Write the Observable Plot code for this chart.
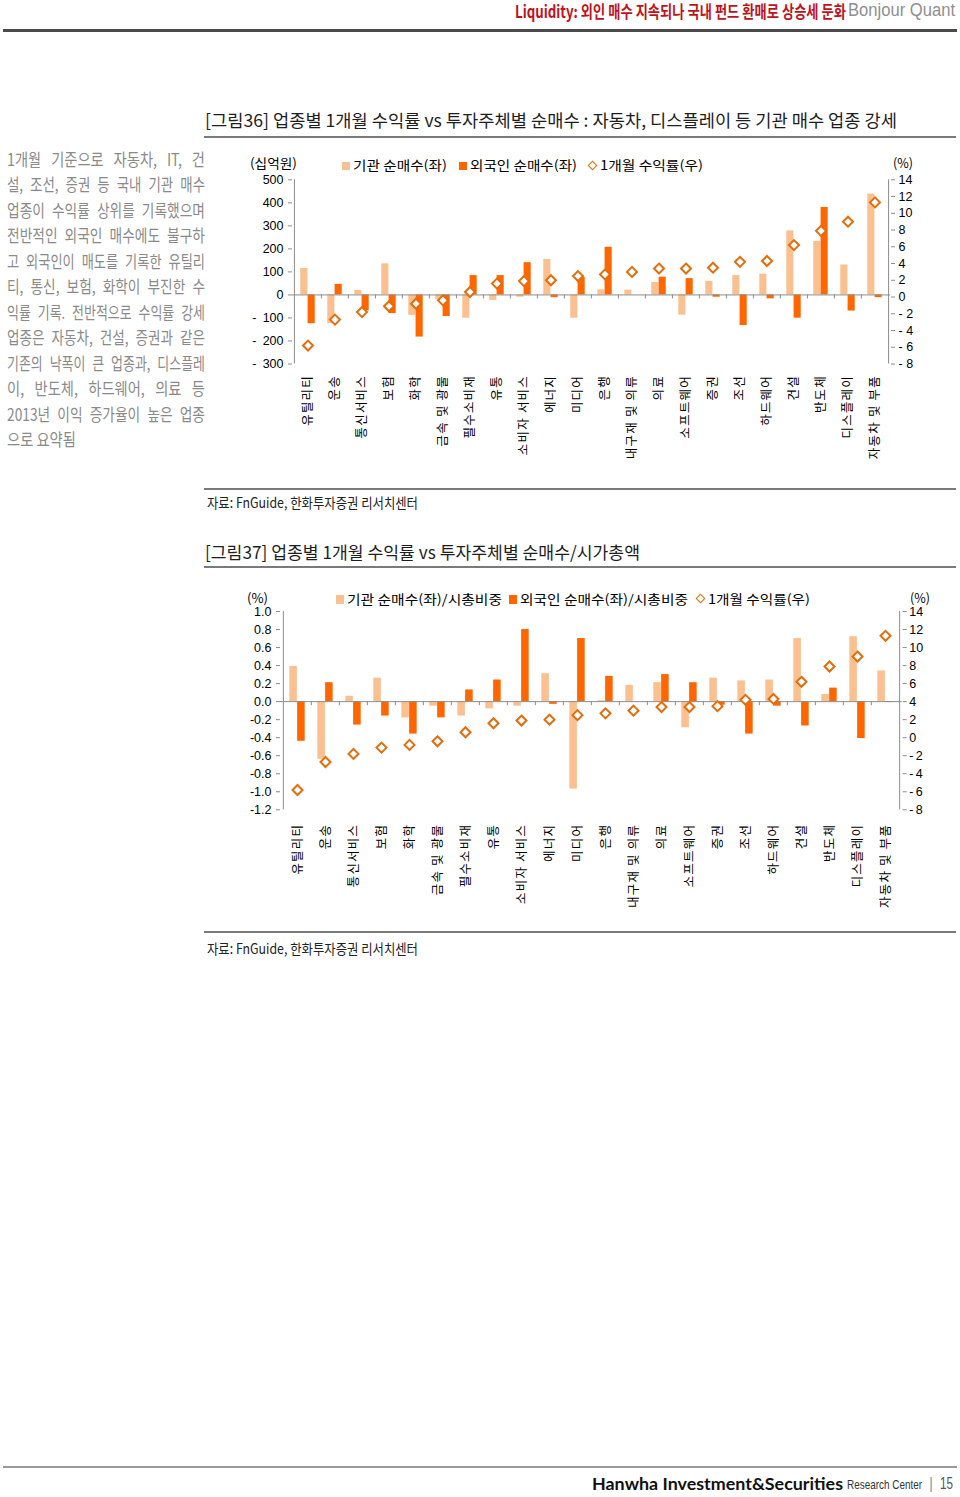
<!DOCTYPE html>
<html><head><meta charset="utf-8">
<script src="https://cdn.jsdelivr.net/npm/d3@7"></script>
<script src="https://cdn.jsdelivr.net/npm/@observablehq/plot@0.6"></script>
<style>
html,body{margin:0;padding:0;background:#fff;}
body{width:960px;height:1497px;position:relative;overflow:hidden;font-family:"Noto Sans CJK KR","Liberation Sans",sans-serif;}
.t{position:absolute;white-space:nowrap;line-height:1;transform-origin:0 0;}
.rule{position:absolute;}
.chart{position:absolute;}
.sq{position:absolute;}
.dia{position:absolute;width:5px;height:5px;border:1.6px solid #E46C0A;background:#fff;transform:rotate(45deg);}
</style></head><body>
<script>
// ---------------- DATA ----------------
const categories = ["유틸리티","운송","통신서비스","보험","화학","금속 및 광물","필수소비재","유통","소비자 서비스","에너지","미디어","은행","내구재 및 의류","의료","소프트웨어","증권","조선","하드웨어","건설","반도체","디스플레이","자동차 및 부품"];
// 기관 순매수 (십억원)
const instNetBuy = [115,-125,20,135,-89,-20,-101,-24,-10,154,-101,22,21,54,-88,59,84,90,278,232,130,438];
// 외국인 순매수 (십억원)
const foreignNetBuy = [-125,46,-69,-81,-183,-94,84,84,140,-12,76,207,0,77,71,-10,-133,-17,-101,380,-70,-12];
// 1개월 수익률 (%)
const return1m = [-5.8,-2.7,-1.8,-1.1,-0.8,-0.4,0.6,1.6,1.9,2.0,2.5,2.7,3.0,3.4,3.4,3.5,4.2,4.3,6.2,7.9,9.0,11.3];
// 기관 순매수 / 시총비중 (%)
const instRatio = [0.39,-0.64,0.06,0.26,-0.18,-0.05,-0.16,-0.08,-0.05,0.31,-0.97,0.01,0.18,0.21,-0.29,0.26,0.23,0.24,0.70,0.08,0.72,0.34];
// 외국인 순매수 / 시총비중 (%)
const foreignRatio = [-0.44,0.21,-0.26,-0.16,-0.36,-0.18,0.13,0.24,0.80,-0.03,0.70,0.28,0.00,0.30,0.21,-0.04,-0.36,-0.05,-0.27,0.15,-0.41,-0.01];

const leftTicks1 = [-300,-200,-100,0,100,200,300,400,500];
const leftTicks2 = [-1.2,-1.0,-0.8,-0.6,-0.4,-0.2,0.0,0.2,0.4,0.6,0.8,1.0];
const rightTicks = [-8,-6,-4,-2,0,2,4,6,8,10,12,14];

const paragraph = [
  "1개월 기준으로 자동차, IT, 건",
  "설, 조선, 증권 등 국내 기관 매수",
  "업종이 수익률 상위를 기록했으며",
  "전반적인 외국인 매수에도 불구하",
  "고 외국인이 매도를 기록한 유틸리",
  "티, 통신, 보험, 화학이 부진한 수",
  "익률 기록. 전반적으로 수익률 강세",
  "업종은 자동차, 건설, 증권과 같은",
  "기존의 낙폭이 큰 업종과, 디스플레",
  "이, 반도체, 하드웨어, 의료 등",
  "2013년 이익 증가율이 높은 업종",
  "으로 요약됨"
];
const headerRed = "Liquidity: 외인 매수 지속되나 국내 펀드 환매로 상승세 둔화";
const headerGray = "Bonjour Quant";
const title1 = "[그림36]  업종별 1개월 수익률 vs 투자주체별 순매수 : 자동차, 디스플레이 등 기관 매수 업종 강세";
const title2 = "[그림37]  업종별 1개월 수익률 vs 투자주체별 순매수/시가총액";
const source = "자료: FnGuide, 한화투자증권 리서치센터";
const legend1 = ["기관  순매수(좌)", "외국인  순매수(좌)", "1개월  수익률(우)"];
const legend2 = ["기관  순매수(좌)/시총비중", "외국인  순매수(좌)/시총비중", "1개월  수익률(우)"];

// ---------------- STYLE ----------------
const light = "#FAC090", dark = "#FF6600", dStroke = "#E46C0A", axisGray = "#8c8c8c";
const KR = "'Noto Sans CJK KR', sans-serif";
const LAT = "'Liberation Sans', 'Noto Sans CJK KR', sans-serif";

function txt(str, o) {
  const d = document.createElement("div");
  d.className = "t";
  d.textContent = str;
  d.style.fontSize = o.size + "px";
  d.style.left = o.x + "px";
  d.style.top = o.y + "px";
  d.style.color = o.color || "#000";
  d.style.fontWeight = o.weight || 400;
  d.style.fontFamily = o.family || KR;
  if (o.ls) d.style.letterSpacing = o.ls + "px";
  document.body.appendChild(d);
  if (o.w) {
    const nat = d.getBoundingClientRect().width;
    d.style.transform = `scaleX(${o.w / nat})`;
  }
  return d;
}
function rule(x, y, w, h, c) {
  const d = document.createElement("div");
  d.className = "rule";
  Object.assign(d.style, {left: x + "px", top: y + "px", width: w + "px", height: h + "px", background: c});
  document.body.appendChild(d);
}
function square(x, y, w, h, c) {
  const d = document.createElement("div");
  d.className = "sq";
  Object.assign(d.style, {left: x + "px", top: y + "px", width: w + "px", height: h + "px", background: c});
  document.body.appendChild(d);
}
function diamond(cx, cy) {
  const d = document.createElement("div");
  d.className = "dia";
  d.style.left = (cx - 4.1) + "px";
  d.style.top = (cy - 4.1) + "px";
  document.body.appendChild(d);
}

// ---------------- HEADER ----------------
txt(headerRed, {x: 515, y: 2.5, size: 16.5, w: 331, color: "#c0121c", weight: 700});
txt(headerGray, {x: 848, y: 1.5, size: 17.5, w: 107, color: "#8f8f8f", family: LAT});
rule(3, 29, 954, 3, "#4a4a4a");

// ---------------- PARAGRAPH (justified lines) ----------------
const pMaxScale = 0.84, pW = 198, pMinGap = 4;
paragraph.forEach((line, i) => {
  const d = document.createElement("div");
  d.className = "t";
  d.textContent = line;
  Object.assign(d.style, {left: "7px", top: (152 + 25.5 * i - 2.5) + "px", fontSize: "17px", color: "#8a8a8a"});
  document.body.appendChild(d);
  const nat = d.getBoundingClientRect().width;
  const spaces = (line.match(/ /g) || []).length;
  const last = i === paragraph.length - 1;
  let s = pMaxScale;
  if (!last) {
    s = Math.min(pMaxScale, (pW - spaces * pMinGap) / nat);
    if (spaces) d.style.wordSpacing = ((pW / s - nat) / spaces) + "px";
  }
  d.style.transform = `scaleX(${s})`;
});

// ---------------- TITLES / SOURCES ----------------
txt(title1, {x: 205, y: 110.5, size: 17.5, w: 692, color: "#1e1e1e"});
rule(204, 135.5, 752, 2, "#7a7a7a");
rule(204, 488, 752, 2, "#7a7a7a");
txt(source, {x: 207, y: 494.5, size: 14, w: 211, color: "#222"});
txt(title2, {x: 205, y: 542.5, size: 17.5, w: 435, color: "#1e1e1e"});
rule(204, 566, 752, 2, "#7a7a7a");
rule(204, 931, 752, 2, "#7a7a7a");
txt(source, {x: 207, y: 940.5, size: 14, w: 211, color: "#222"});

// ---------------- FOOTER ----------------
rule(3, 1466, 954, 2, "#9a9a9a");
txt("Hanwha Investment&Securities", {x: 592, y: 1475, size: 17, w: 251, color: "#111", weight: 700, family: "Lato, sans-serif"});
txt("Research Center", {x: 847, y: 1477.5, size: 13, w: 75, color: "#333", family: LAT});
txt("|", {x: 929, y: 1476, size: 16, color: "#999", family: LAT});
txt("15", {x: 940, y: 1476, size: 16, w: 13, color: "#555", family: LAT});

// ---------------- CHARTS ----------------
function makeChart(o) {
  const rows = categories.map((c, i) => ({c, inst: o.inst[i], foreign: o.foreign[i], ret: return1m[i]}));
  const innerW = o.width - o.mL - o.mR, innerH = o.height - o.mT - o.mB;
  const bw = innerW / categories.length;
  const [d0, d1] = o.domain;
  const r0 = rightTicks[0], r1 = rightTicks[rightTicks.length - 1];
  const toLeft = r => d0 + (r - r0) * (d1 - d0) / (r1 - r0);
  const fromLeft = v => r0 + (v - d0) * (r1 - r0) / (d1 - d0);
  const tickLen = 4 * (d1 - d0) / innerH;
  const lastCat = categories[categories.length - 1];
  const svg = Plot.plot({
    width: o.width, height: o.height,
    marginLeft: o.mL, marginRight: o.mR, marginTop: o.mT, marginBottom: o.mB,
    style: {fontFamily: LAT, fontSize: "12.5px", color: "#000", background: "transparent", overflow: "visible"},
    x: {type: "band", domain: categories, padding: 0, label: null},
    y: {domain: o.domain, label: null},
    marks: [
      Plot.barY(rows, {x: "c", y: "inst", fill: light, insetLeft: bw / 2 - o.barW, insetRight: bw / 2}),
      Plot.barY(rows, {x: "c", y: "foreign", fill: dark, insetLeft: bw / 2, insetRight: bw / 2 - o.barW}),
      Plot.ruleY([0], {stroke: axisGray}),
      Plot.ruleX(categories.slice(1), {x: d => d, dx: -bw / 2, y1: 0, y2: -tickLen, stroke: axisGray}),
      Plot.ruleX([categories[0]], {x: d => d, dx: -bw / 2, y1: d0, y2: d1, stroke: axisGray}),
      Plot.ruleX([lastCat], {x: d => d, dx: bw / 2, y1: d0, y2: d1, stroke: axisGray}),
      Plot.dot(rows, {x: "c", y: d => toLeft(d.ret), symbol: "diamond2", r: o.r, stroke: dStroke, strokeWidth: 2, fill: "white"}),
      Plot.axisY({anchor: "left", ticks: o.leftTicks, tickFormat: o.leftFmt, tickSize: 4, tickPadding: o.lPad, stroke: axisGray, fill: "#000", fontSize: 12.5}),
      Plot.axisY({anchor: "right", ticks: rightTicks.map(toLeft), tickFormat: v => o.rightFmt(Math.round(fromLeft(v))), tickSize: 4, tickPadding: o.rPad, stroke: axisGray, fill: "#000", fontSize: 12.5}),
      Plot.axisX({anchor: "bottom", tickSize: 0, tickPadding: o.xPad, tickRotate: -90, fontSize: 12.5, fontFamily: KR, fill: "#000", label: null})
    ]
  });
  svg.querySelectorAll('g[aria-label="x-axis tick label"] text').forEach(t => t.style.letterSpacing = "1.2px");
  const wrap = document.createElement("div");
  wrap.className = "chart";
  wrap.style.left = o.left + "px";
  wrap.style.top = o.top + "px";
  wrap.appendChild(svg);
  document.body.appendChild(wrap);
}

makeChart({
  left: 240, top: 150, width: 700, height: 330, mL: 52, mR: 50, mT: 29.3, mB: 116.5,
  domain: [-300, 500], leftTicks: leftTicks1,
  leftFmt: d => d < 0 ? "-\u2002" + (-d) : String(d),
  rightFmt: d => d < 0 ? "- " + (-d) : String(d),
  inst: instNetBuy, foreign: foreignNetBuy, barW: 7.3, r: 4.5, lPad: 5, rPad: 4, xPad: 11
});
makeChart({
  left: 225, top: 580, width: 720, height: 345, mL: 55, mR: 43.3, mT: 31, mB: 115.7,
  domain: [-1.2, 1.0], leftTicks: leftTicks2,
  leftFmt: d => d < 0 ? "-" + (-d).toFixed(1) : d.toFixed(1),
  rightFmt: d => d < 0 ? "-\u2009" + (-d) : String(d),
  inst: instRatio, foreign: foreignRatio, barW: 7.8, r: 4.5, lPad: 5, rPad: 3, xPad: 14
});

// ---------------- CHART TEXT (units, legends) ----------------
txt("(십억원)", {x: 250, y: 156, size: 13, w: 47, family: KR});
txt("(%)", {x: 893, y: 156, size: 13, w: 20, family: KR});
square(342, 161.5, 8, 8.5, light);
txt(legend1[0], {x: 353, y: 157.5, size: 13, w: 94});
square(459, 161.5, 8, 8.5, dark);
txt(legend1[1], {x: 470, y: 157.5, size: 13, w: 107});
diamond(593, 166);
txt(legend1[2], {x: 600, y: 157.5, size: 13, w: 103});

txt("(%)", {x: 247, y: 591, size: 13, w: 21, family: KR});
txt("(%)", {x: 910, y: 591, size: 13, w: 20, family: KR});
square(336, 595, 8, 9, light);
txt(legend2[0], {x: 347, y: 592, size: 13, w: 155});
square(509, 595, 8, 9, dark);
txt(legend2[1], {x: 520, y: 592, size: 13, w: 168});
diamond(701, 599.5);
txt(legend2[2], {x: 708, y: 592, size: 13, w: 102});
</script>
</body></html>
